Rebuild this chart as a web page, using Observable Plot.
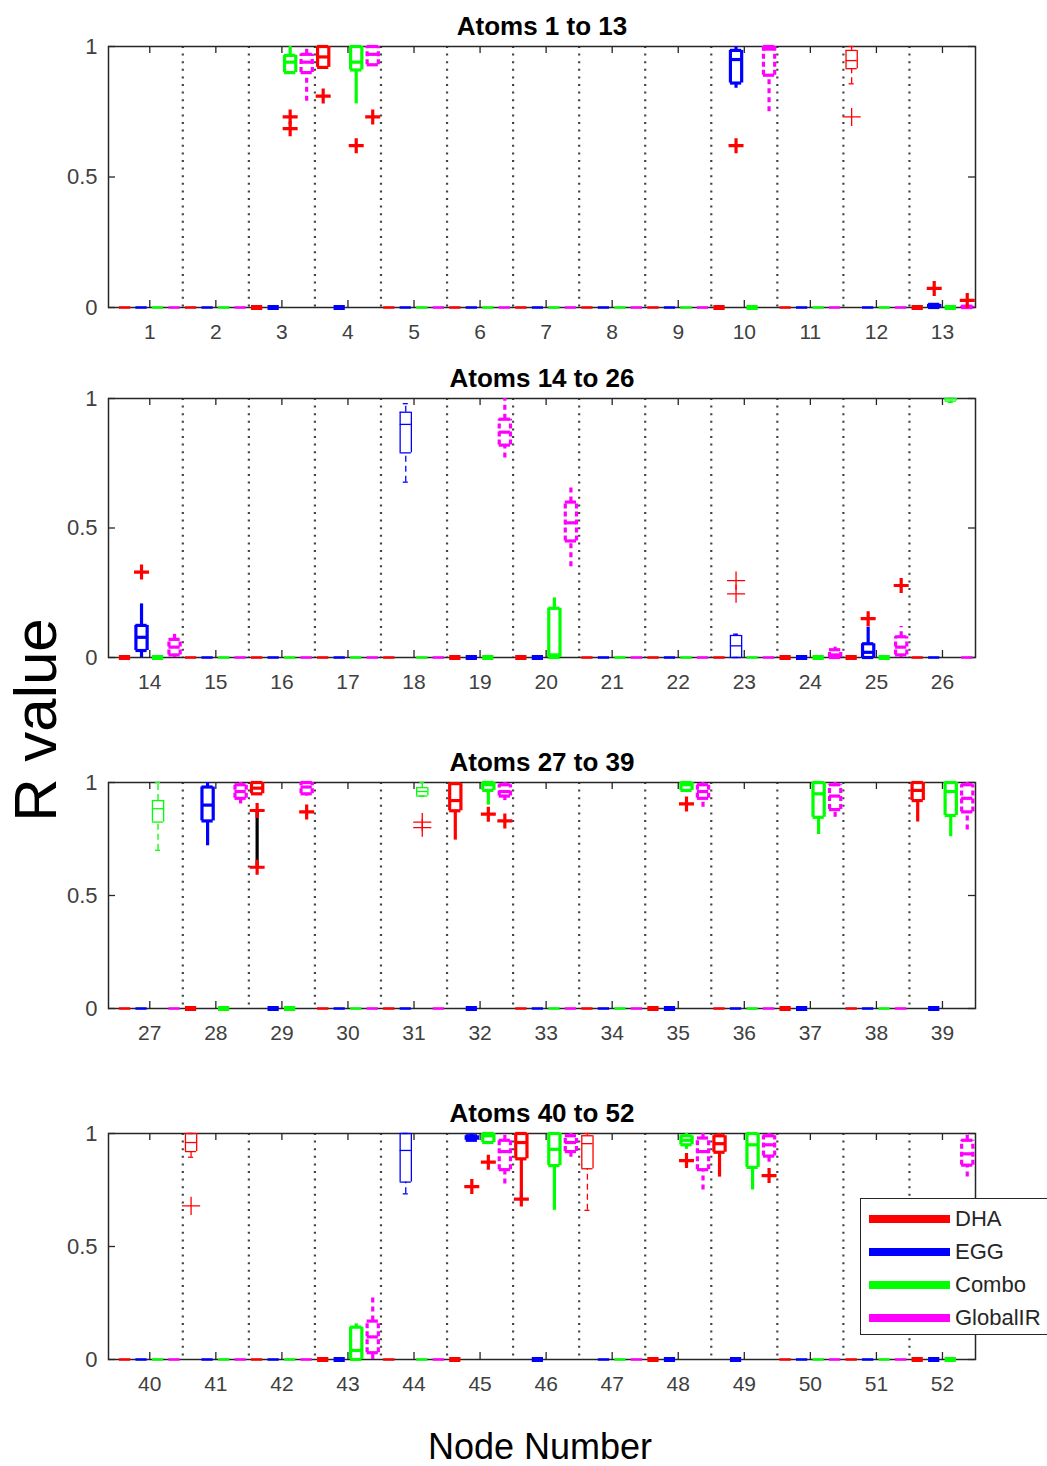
<!DOCTYPE html>
<html>
<head>
<meta charset="utf-8">
<script src="https://cdn.jsdelivr.net/npm/d3@7"></script>
<script src="https://cdn.jsdelivr.net/npm/@observablehq/plot@0.6"></script>
<style>
html, body { margin: 0; padding: 0; background: #fff; }
#chart { position: relative; width: 1047px; height: 1466px; overflow: hidden; font-family: "Liberation Sans", Arial, sans-serif; background: #fff; }
.panel { position: absolute; left: 0; }
#ylab { position: absolute; left: 36px; top: 720px; transform: translate(-50%, -50%) rotate(-90deg); font-size: 60px; line-height: 1; white-space: nowrap; color: #000; }
#xlab { position: absolute; left: 540px; top: 1447px; transform: translate(-50%, -50%); font-size: 36px; line-height: 1; white-space: nowrap; color: #000; }
#legend { position: absolute; left: 860px; top: 1198px; width: 210px; height: 137px; border: 1.5px solid #262626; background: #fff; box-sizing: border-box; z-index: 5; }
.lline { position: absolute; left: 8px; width: 81px; height: 8px; }
.ltext { position: absolute; left: 94px; font-size: 22px; line-height: 1; color: #262626; white-space: nowrap; }
</style>
</head>
<body>
<div id="chart"></div>
<script>
// ---------------- data ----------------
const seriesNames = ["DHA", "EGG", "Combo", "GlobalIR"];
const seriesColors = ["#ff0000", "#0000ff", "#00ff00", "#ff00ff"];
const panelTitles = ["Atoms 1 to 13", "Atoms 14 to 26", "Atoms 27 to 39", "Atoms 40 to 52"];
const panelAtoms = [
  [1, 2, 3, 4, 5, 6, 7, 8, 9, 10, 11, 12, 13],
  [14, 15, 16, 17, 18, 19, 20, 21, 22, 23, 24, 25, 26],
  [27, 28, 29, 30, 31, 32, 33, 34, 35, 36, 37, 38, 39],
  [40, 41, 42, 43, 44, 45, 46, 47, 48, 49, 50, 51, 52]
];
const yTicks = [0, 0.5, 1];

// box statistics that are not all zero: atom, series, lower whisker, q1, median, q3, upper whisker
// (every other atom/series box is collapsed at 0)
const boxStats = [
  [3, "Combo", 0.90, 0.90, 0.94, 0.966, 1.0],
  [3, "GlobalIR", 0.79, 0.90, 0.94, 0.97, 1.0],
  [4, "DHA", 0.92, 0.92, 0.96, 1.0, 1.0],
  [4, "Combo", 0.78, 0.91, 0.94, 1.0, 1.0],
  [4, "GlobalIR", 0.93, 0.93, 0.97, 1.0, 1.0],
  [10, "EGG", 0.84, 0.86, 0.95, 0.985, 1.0],
  [10, "GlobalIR", 0.75, 0.89, 0.99, 1.0, 1.0],
  [12, "DHA", 0.857, 0.915, 0.946, 0.985, 1.0],
  [13, "EGG", 0, 0, 0.005, 0.012, 0.015],
  [13, "GlobalIR", 0, 0, 0, 0.005, 0.01],
  [14, "EGG", 0, 0.027, 0.078, 0.124, 0.207],
  [14, "GlobalIR", 0, 0.01, 0.04, 0.07, 0.10],
  [18, "EGG", 0.677, 0.79, 0.90, 0.947, 0.98],
  [19, "GlobalIR", 0.77, 0.82, 0.87, 0.92, 1.0],
  [20, "Combo", 0, 0, 0.01, 0.19, 0.23],
  [20, "GlobalIR", 0.35, 0.45, 0.52, 0.60, 0.67],
  [23, "EGG", 0, 0, 0.045, 0.085, 0.09],
  [24, "GlobalIR", 0, 0, 0.01, 0.03, 0.04],
  [25, "EGG", 0, 0, 0.02, 0.053, 0.117],
  [25, "GlobalIR", 0, 0.01, 0.04, 0.08, 0.12],
  [26, "Combo", 0.985, 0.99, 1.0, 1.0, 1.0],
  [27, "Combo", 0.70, 0.825, 0.884, 0.92, 1.0],
  [28, "EGG", 0.72, 0.83, 0.90, 0.98, 1.0],
  [28, "GlobalIR", 0.905, 0.93, 0.96, 0.99, 1.0],
  [29, "DHA", 0.95, 0.95, 0.975, 1.0, 1.0],
  [29, "GlobalIR", 0.94, 0.95, 0.98, 1.0, 1.0],
  [31, "Combo", 0.94, 0.94, 0.96, 0.977, 1.0],
  [32, "DHA", 0.745, 0.875, 0.92, 0.995, 1.0],
  [32, "Combo", 0.90, 0.965, 0.99, 1.0, 1.0],
  [32, "GlobalIR", 0.92, 0.94, 0.96, 0.99, 1.0],
  [35, "Combo", 0.965, 0.965, 0.99, 1.0, 1.0],
  [35, "GlobalIR", 0.89, 0.93, 0.96, 0.99, 1.0],
  [37, "Combo", 0.77, 0.846, 0.95, 1.0, 1.0],
  [37, "GlobalIR", 0.846, 0.88, 0.94, 0.99, 1.0],
  [39, "DHA", 0.825, 0.92, 0.965, 1.0, 1.0],
  [39, "Combo", 0.76, 0.854, 0.96, 1.0, 1.0],
  [39, "GlobalIR", 0.79, 0.87, 0.93, 0.99, 1.0],
  [41, "DHA", 0.895, 0.92, 0.96, 1.0, 1.0],
  [43, "Combo", 0, 0, 0.04, 0.143, 0.158],
  [43, "GlobalIR", 0, 0.03, 0.10, 0.17, 0.28],
  [44, "EGG", 0.733, 0.785, 0.925, 1.0, 1.0],
  [45, "EGG", 0.97, 0.97, 0.98, 0.99, 1.0],
  [45, "Combo", 0.955, 0.96, 0.99, 1.0, 1.0],
  [45, "GlobalIR", 0.777, 0.84, 0.92, 0.97, 1.0],
  [46, "DHA", 0.71, 0.888, 0.96, 1.0, 1.0],
  [46, "Combo", 0.66, 0.858, 0.93, 1.0, 1.0],
  [46, "GlobalIR", 0.895, 0.92, 0.96, 0.99, 1.0],
  [47, "DHA", 0.66, 0.844, 0.955, 0.99, 1.0],
  [48, "Combo", 0.93, 0.95, 0.97, 0.99, 1.0],
  [48, "GlobalIR", 0.75, 0.84, 0.92, 0.98, 1.0],
  [49, "DHA", 0.807, 0.917, 0.955, 0.99, 1.0],
  [49, "Combo", 0.75, 0.85, 0.95, 1.0, 1.0],
  [49, "GlobalIR", 0.873, 0.90, 0.95, 0.99, 1.0],
  [52, "GlobalIR", 0.807, 0.86, 0.91, 0.97, 1.0]
];

// outliers: atom, series, value
const outliers = [
  [3, "Combo", 0.73], [3, "Combo", 0.685],
  [4, "DHA", 0.81], [4, "Combo", 0.62], [4, "GlobalIR", 0.73],
  [10, "EGG", 0.62],
  [12, "DHA", 0.73],
  [13, "EGG", 0.073], [13, "GlobalIR", 0.027],
  [14, "EGG", 0.33],
  [23, "EGG", 0.297], [23, "EGG", 0.246],
  [25, "EGG", 0.15], [25, "GlobalIR", 0.278],
  [29, "DHA", 0.876], [29, "DHA", 0.625], [29, "GlobalIR", 0.87],
  [31, "Combo", 0.825], [31, "Combo", 0.80],
  [32, "Combo", 0.86], [32, "GlobalIR", 0.83],
  [35, "Combo", 0.905],
  [41, "DHA", 0.68],
  [45, "EGG", 0.765], [45, "Combo", 0.873],
  [46, "DHA", 0.71],
  [48, "Combo", 0.88],
  [49, "GlobalIR", 0.814]
];

// black segment joining the two DHA outliers of atom 29: atom, series, from, to
const blackSegments = [[29, "DHA", 0.625, 0.876]];

// atoms drawn with the heavy line style
const boldAtoms = [3, 4, 10, 13, 14, 19, 20, 24, 25, 28, 29, 32, 35, 37, 39, 43, 45, 46, 48, 49, 52];

// ---------------- build rows ----------------
const seriesOffset = [-0.375, -0.125, 0.125, 0.375];
const allAtoms = panelAtoms.flat();
const rows = [];
for (const atom of allAtoms) {
  seriesNames.forEach((s, i) => {
    const st = boxStats.find(b => b[0] === atom && b[1] === s);
    const v = st ? st.slice(2) : [0, 0, 0, 0, 0];
    rows.push({
      atom, series: s, color: seriesColors[i], pos: atom + seriesOffset[i],
      lo: v[0], q1: v[1], med: v[2], q3: v[3], hi: v[4],
      zero: !st, bold: boldAtoms.includes(atom)
    });
  });
}
const posOf = (atom, s) => atom + seriesOffset[seriesNames.indexOf(s)];
const outRows = outliers.map(([atom, s, v]) => ({atom, pos: posOf(atom, s), v, bold: boldAtoms.includes(atom)}));
const segRows = blackSegments.map(([atom, s, a, b]) => ({atom, pos: posOf(atom, s), a, b}));

// ---------------- layout ----------------
const W = 1047, ML = 108, MR = 72, MT = 46, MB = 46;
const frames = [[46, 307], [398, 657], [782, 1008], [1133, 1359]];
const hw = 0.085;

function boxMarks(data, boxDash, whiskerDash) {
  const stroke = r => r.color;
  const sw = r => r.bold ? 3.2 : 1.3;
  const thin = data.filter(r => !r.bold);
  return [
    Plot.ruleX(data, {x: "pos", y1: "lo", y2: "q1", stroke, strokeWidth: sw, strokeDasharray: whiskerDash}),
    Plot.ruleX(data, {x: "pos", y1: "q3", y2: "hi", stroke, strokeWidth: sw, strokeDasharray: whiskerDash}),
    Plot.ruleY(thin, {y: "lo", x1: r => r.pos - hw * 0.45, x2: r => r.pos + hw * 0.45, stroke, strokeWidth: 1.3}),
    Plot.ruleY(thin, {y: "hi", x1: r => r.pos - hw * 0.45, x2: r => r.pos + hw * 0.45, stroke, strokeWidth: 1.3}),
    Plot.ruleX(data, {x: r => r.pos - hw, y1: "q1", y2: "q3", stroke, strokeWidth: sw, strokeDasharray: boxDash}),
    Plot.ruleX(data, {x: r => r.pos + hw, y1: "q1", y2: "q3", stroke, strokeWidth: sw, strokeDasharray: boxDash}),
    Plot.ruleY(data, {y: "q1", x1: r => r.pos - hw, x2: r => r.pos + hw, stroke, strokeWidth: sw}),
    Plot.ruleY(data, {y: "q3", x1: r => r.pos - hw, x2: r => r.pos + hw, stroke, strokeWidth: sw}),
    Plot.ruleY(data, {y: "med", x1: r => r.pos - hw, x2: r => r.pos + hw, stroke, strokeWidth: sw})
  ];
}

const chart = document.getElementById("chart");

panelAtoms.forEach((atoms, k) => {
  const a0 = atoms[0], a1 = atoms[atoms.length - 1];
  const [ft, fb] = frames[k];
  const innerH = fb - ft;
  const xmin = a0 - 0.625, xmax = a1 + 0.5;
  const pxPerUnit = (W - ML - MR) / (xmax - xmin);
  const tlY = 7 / innerH;
  const tlX = 7 / pxPerUnit;
  const pr = rows.filter(r => r.atom >= a0 && r.atom <= a1);
  const zeros = pr.filter(r => r.zero);
  const boxes = pr.filter(r => !r.zero);
  const gA = boxes.filter(r => r.series !== "GlobalIR" && r.bold);
  const gB = boxes.filter(r => r.series !== "GlobalIR" && !r.bold);
  const gC = boxes.filter(r => r.series === "GlobalIR");
  const outs = outRows.filter(r => r.atom >= a0 && r.atom <= a1);
  const segs = segRows.filter(r => r.atom >= a0 && r.atom <= a1);
  const seps = atoms.slice(0, -1).map(a => a + 0.5);

  const plot = Plot.plot({
    width: W,
    height: innerH + MT + MB,
    marginLeft: ML, marginRight: MR, marginTop: MT, marginBottom: MB,
    style: {background: "transparent", overflow: "visible", fontFamily: "Liberation Sans, Arial, sans-serif"},
    x: {axis: null, domain: [xmin, xmax]},
    y: {axis: null, domain: [0, 1]},
    marks: [
      Plot.ruleX(seps, {x: d => d, stroke: "#444", strokeWidth: 2.2, strokeDasharray: "2,5.6"}),
      Plot.frame({stroke: "#262626", strokeWidth: 1.5}),
      Plot.ruleX(atoms, {x: d => d, y1: 0, y2: tlY, stroke: "#262626", strokeWidth: 1.3}),
      Plot.ruleX(atoms, {x: d => d, y1: 1 - tlY, y2: 1, stroke: "#262626", strokeWidth: 1.3}),
      Plot.ruleY(yTicks, {y: d => d, x1: () => xmin, x2: () => xmin + tlX, stroke: "#262626", strokeWidth: 1.3}),
      Plot.ruleY(yTicks, {y: d => d, x1: () => xmax - tlX, x2: () => xmax, stroke: "#262626", strokeWidth: 1.3}),
      Plot.text(atoms, {x: d => d, y: () => 0, dy: 25, fontSize: 21, fill: "#404040", text: d => String(d)}),
      Plot.text(yTicks, {y: d => d, frameAnchor: "left", dx: -11, textAnchor: "end", fontSize: 22, fill: "#404040", text: d => String(d)}),
      Plot.text([panelTitles[k]], {frameAnchor: "top", lineAnchor: "middle", dy: -20, fontSize: 26, fontWeight: "bold", fill: "#000", text: d => d}),
      Plot.ruleY(zeros.filter(r => !r.bold), {y: () => 0, x1: r => r.pos - hw, x2: r => r.pos + hw, stroke: r => r.color, strokeWidth: 2.5}),
      Plot.ruleY(zeros.filter(r => r.bold), {y: () => 0, x1: r => r.pos - hw, x2: r => r.pos + hw, stroke: r => r.color, strokeWidth: 5}),
      ...boxMarks(gA, null, null),
      ...boxMarks(gB, null, "6,4"),
      ...boxMarks(gC, "5,3", "5,4"),
      Plot.ruleX(segs, {x: "pos", y1: "a", y2: "b", stroke: "#000", strokeWidth: 3.2}),
      Plot.dot(outs.filter(d => d.bold), {x: "pos", y: "v", symbol: "plus", r: 4.9, stroke: "#ff0000", fill: "none", strokeWidth: 3.2}),
      Plot.dot(outs.filter(d => !d.bold), {x: "pos", y: "v", symbol: "plus", r: 5.9, stroke: "#ff0000", fill: "none", strokeWidth: 1.3})
    ]
  });
  plot.classList.add("panel");
  plot.style.position = "absolute";
  plot.style.top = (ft - MT) + "px";
  plot.style.left = "0px";
  chart.appendChild(plot);
});

// axis titles
const yl = document.createElement("div");
yl.id = "ylab"; yl.textContent = "R value";
chart.appendChild(yl);
const xl = document.createElement("div");
xl.id = "xlab"; xl.textContent = "Node Number";
chart.appendChild(xl);

// legend
const leg = document.createElement("div");
leg.id = "legend";
const rowCenters = [20, 53, 86, 119];
seriesNames.forEach((s, i) => {
  const line = document.createElement("div");
  line.className = "lline";
  line.style.top = (rowCenters[i] - 4) + "px";
  line.style.background = seriesColors[i];
  leg.appendChild(line);
  const t = document.createElement("div");
  t.className = "ltext";
  t.style.top = (rowCenters[i] - 11) + "px";
  t.textContent = s;
  leg.appendChild(t);
});
chart.appendChild(leg);
</script>
</body>
</html>
